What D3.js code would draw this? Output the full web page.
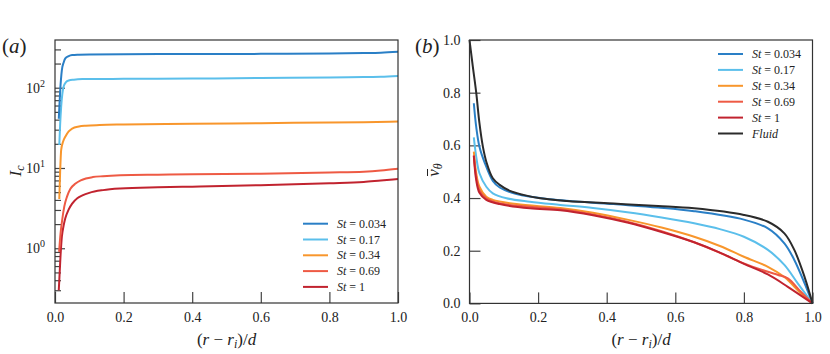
<!DOCTYPE html>
<html>
<head>
<meta charset="utf-8">
<script src="https://cdn.jsdelivr.net/npm/d3@7"></script>
<style>
  body { margin: 0; background: #fff; }
  svg { display: block; }
  text { font-family: "Times New Roman", "Liberation Serif", Times, serif; }
  .tick line { stroke: #444; stroke-width: 1.2; }
</style>
</head>
<body>
<div id="chart"></div>
<script>
// stokes numbers, one series per value
var stLabels = ["0.034", "0.17", "0.34", "0.69", "1"];
var stColours = ["#2a7fc6", "#5bbfeb", "#f8962c", "#ee5a44", "#c1232f"];
var fluidColour = "#2b2b2b";

// panel (a): I_c against (r - r_i)/d, pairs [x, Ic]
var icSt0034 = [[0.011,41],[0.015,90],[0.02,166],[0.025,205],[0.03,232],[0.04,248],[0.05,255],[0.07,258],[0.1,260],[0.2,262],[0.4,263],[0.6,264],[0.8,267],[0.9,270],[0.95,273],[1.0,280]];
var icSt017 = [[0.0125,19.3],[0.015,35],[0.018,58],[0.025,103],[0.032,117],[0.04,123],[0.055,126],[0.08,128],[0.2,129],[0.4,130],[0.6,132],[0.8,134],[0.9,136],[0.95,137],[1.0,140]];
var icSt034 = [[0.0125,4.1],[0.015,9],[0.018,16.8],[0.024,21.5],[0.03,24.5],[0.04,28.5],[0.05,31],[0.07,32.8],[0.09,33.6],[0.13,34.3],[0.2,34.8],[0.4,35.5],[0.6,36.2],[0.8,36.8],[0.9,37.2],[1.0,38]];
var icSt069 = [[0.012,0.9],[0.016,1.5],[0.02,2.1],[0.027,3.3],[0.035,4.4],[0.045,5.5],[0.06,6.4],[0.075,7.0],[0.09,7.4],[0.11,7.7],[0.14,7.9],[0.19,8.1],[0.3,8.25],[0.4,8.35],[0.6,8.5],[0.8,8.8],[0.9,9.0],[0.95,9.3],[1.0,9.8]];
var icSt1 = [[0.011,0.3],[0.016,0.79],[0.02,1.39],[0.025,1.9],[0.03,2.36],[0.04,3.05],[0.05,3.6],[0.065,4.2],[0.08,4.55],[0.1,4.9],[0.14,5.3],[0.19,5.55],[0.3,5.75],[0.4,5.85],[0.6,6.1],[0.8,6.45],[0.9,6.7],[0.95,7.0],[1.0,7.3]];

// panel (b): mean azimuthal velocity, pairs [x, v]
var vSt0034 = [[0.0126,0.76],[0.0196,0.67],[0.029,0.595],[0.045,0.532],[0.068,0.465],[0.088,0.44],[0.137,0.415],[0.235,0.395],[0.42,0.377],[0.55,0.364],[0.655,0.35],[0.8,0.318],[0.87,0.285],[0.918,0.228],[0.947,0.165],[0.977,0.076],[1.0,0]];
var vSt017 = [[0.0126,0.63],[0.0196,0.557],[0.029,0.494],[0.049,0.443],[0.068,0.418],[0.108,0.399],[0.176,0.386],[0.265,0.374],[0.36,0.362],[0.46,0.346],[0.56,0.326],[0.655,0.304],[0.73,0.282],[0.8,0.253],[0.87,0.203],[0.918,0.146],[0.957,0.076],[1.0,0]];
var vSt034 = [[0.0126,0.576],[0.0196,0.494],[0.029,0.443],[0.049,0.405],[0.068,0.393],[0.137,0.377],[0.265,0.362],[0.36,0.344],[0.46,0.318],[0.56,0.288],[0.655,0.253],[0.73,0.218],[0.8,0.177],[0.87,0.139],[0.918,0.10],[0.966,0.038],[1.0,0]];
var vSt069 = [[0.0126,0.563],[0.0196,0.481],[0.029,0.43],[0.049,0.399],[0.088,0.38],[0.176,0.367],[0.265,0.357],[0.36,0.338],[0.46,0.31],[0.56,0.274],[0.655,0.232],[0.73,0.192],[0.8,0.152],[0.87,0.12],[0.9,0.108],[0.928,0.095],[0.966,0.044],[1.0,0]];
var vSt1 = [[0.0126,0.56],[0.0196,0.468],[0.029,0.42],[0.049,0.393],[0.088,0.377],[0.176,0.361],[0.265,0.354],[0.36,0.335],[0.46,0.307],[0.56,0.271],[0.655,0.232],[0.73,0.193],[0.8,0.15],[0.87,0.11],[0.928,0.063],[1.0,0]];
var vFluid = [[0,1.0],[0.0097,0.899],[0.0196,0.80],[0.029,0.684],[0.039,0.595],[0.049,0.538],[0.068,0.475],[0.088,0.45],[0.118,0.427],[0.157,0.412],[0.206,0.399],[0.284,0.389],[0.42,0.379],[0.55,0.37],[0.655,0.361],[0.8,0.336],[0.87,0.31],[0.918,0.266],[0.947,0.203],[0.977,0.10],[1.0,0]];

var xTicks = [0, 0.2, 0.4, 0.6, 0.8, 1.0];
var vTicks = [0, 0.2, 0.4, 0.6, 0.8, 1.0];
var icMajor = [1, 10, 100];

var width = 830, height = 354;
var svg = d3.select("#chart").append("svg")
  .attr("width", width)
  .attr("height", height)
  .attr("font-family", "Times New Roman, Liberation Serif, serif");

var fmt = d3.format(".1f");

//panel geometry
var pa = {left: 55, right: 398, top: 40, bottom: 303};
var pb = {left: 469.5, right: 812.5, top: 40, bottom: 303.4};

function panelG(p){
  return svg.append("g").attr("transform", "translate(" + p.left + "," + p.top + ")");
}

function tidyAxis(g){
  g.select(".domain").remove();
  g.attr("font-family", null).attr("font-size", null);
  g.selectAll(".tick text")
    .style("font-size", "14px")
    .style("fill", "#222");
}

// ---------- panel (a) ----------
var ga = panelG(pa);
var wa = pa.right - pa.left, ha = pa.bottom - pa.top;
var xa = d3.scaleLinear().domain([0, 1]).range([0, wa]);
var ya = d3.scaleLog().domain([0.208, 393]).range([ha, 0]);

var icMinor = [];
[0.1, 1, 10, 100].forEach(function(dec){
  for (var k = 2; k <= 9; k++) {
    var v = dec * k;
    if (v > 0.208 && v < 393) icMinor.push(v);
  }
});

ga.append("g").attr("transform", "translate(0," + ha + ")")
  .call(d3.axisBottom(xa).tickValues(xTicks).tickSize(-11).tickPadding(9).tickFormat(fmt))
  .call(tidyAxis);

ga.append("g").call(d3.axisLeft(ya).tickValues(icMajor).tickSize(-10).tickFormat(""))
  .call(tidyAxis);
ga.append("g").call(d3.axisLeft(ya).tickValues(icMinor).tickSize(-6).tickFormat(""))
  .call(tidyAxis);

//log labels with superscripts
icMajor.forEach(function(v, i){
  var t = ga.append("text")
    .attr("x", -10)
    .attr("y", ya(v) + 5)
    .attr("text-anchor", "end")
    .style("font-size", "14px")
    .style("fill", "#222");
  t.append("tspan").text("10");
  t.append("tspan").attr("dy", -6).style("font-size", "10px").text(String(i));
});

var lineA = d3.line()
  .x(function(d){ return xa(d[0]); })
  .y(function(d){ return ya(d[1]); })
  .curve(d3.curveMonotoneX);

var icSeries = [icSt0034, icSt017, icSt034, icSt069, icSt1];
icSeries.slice().reverse().forEach(function(s, j){
  var i = icSeries.length - 1 - j;
  ga.append("path").datum(s)
    .attr("d", lineA)
    .attr("fill", "none")
    .attr("stroke", stColours[i])
    .attr("stroke-width", 2);
});

ga.append("rect").attr("width", wa).attr("height", ha)
  .attr("fill", "none").attr("stroke", "#333").attr("stroke-width", 1.2);

// legend (a)
stLabels.forEach(function(lab, i){
  var ly = 223.7 + i * 15.8 - pa.top;
  ga.append("line")
    .attr("x1", 303 - pa.left).attr("x2", 328 - pa.left)
    .attr("y1", ly).attr("y2", ly)
    .attr("stroke", stColours[i]).attr("stroke-width", 2);
  var t = ga.append("text").attr("x", 337 - pa.left).attr("y", ly + 4)
    .style("font-size", "12px").style("fill", "#222");
  t.append("tspan").style("font-style", "italic").text("St");
  t.append("tspan").text(" = " + lab);
});

// ---------- panel (b) ----------
var gb = panelG(pb);
var wb = pb.right - pb.left, hb = pb.bottom - pb.top;
var xb = d3.scaleLinear().domain([0, 1]).range([0, wb]);
var yb = d3.scaleLinear().domain([0, 1]).range([hb, 0]);

gb.append("g").attr("transform", "translate(0," + hb + ")")
  .call(d3.axisBottom(xb).tickValues(xTicks).tickSize(-11).tickPadding(9).tickFormat(fmt))
  .call(tidyAxis);
gb.append("g")
  .call(d3.axisLeft(yb).tickValues(vTicks).tickSize(-11).tickPadding(9).tickFormat(fmt))
  .call(tidyAxis);

var lineB = d3.line()
  .x(function(d){ return xb(d[0]); })
  .y(function(d){ return yb(d[1]); })
  .curve(d3.curveCatmullRom.alpha(0.5));

var vSeries = [vSt0034, vSt017, vSt034, vSt069, vSt1];
vSeries.forEach(function(s, i){
  gb.append("path").datum(s)
    .attr("d", lineB)
    .attr("fill", "none")
    .attr("stroke", stColours[i])
    .attr("stroke-width", 2);
});
gb.append("path").datum(vFluid)
  .attr("d", lineB)
  .attr("fill", "none")
  .attr("stroke", fluidColour)
  .attr("stroke-width", 2);

gb.append("rect").attr("width", wb).attr("height", hb)
  .attr("fill", "none").attr("stroke", "#333").attr("stroke-width", 1.2);

// legend (b)
var legB = stLabels.map(function(l, i){ return {lab: l, col: stColours[i]}; });
legB.push({lab: null, col: fluidColour});
legB.forEach(function(d, i){
  var ly = 54 + i * 15.9 - pb.top;
  gb.append("line")
    .attr("x1", 718 - pb.left).attr("x2", 743 - pb.left)
    .attr("y1", ly).attr("y2", ly)
    .attr("stroke", d.col).attr("stroke-width", 2);
  var t = gb.append("text").attr("x", 752 - pb.left).attr("y", ly + 4)
    .style("font-size", "12px").style("fill", "#222");
  if (d.lab === null) {
    t.style("font-style", "italic").text("Fluid");
  } else {
    t.append("tspan").style("font-style", "italic").text("St");
    t.append("tspan").text(" = " + d.lab);
  }
});

// ---------- labels ----------
function panelTag(x, letter){
  var t = svg.append("text").attr("x", x).attr("y", 53)
    .style("font-size", "21px").style("fill", "#222");
  t.append("tspan").text("(");
  t.append("tspan").style("font-style", "italic").text(letter);
  t.append("tspan").text(")");
}
panelTag(2, "a");
panelTag(415, "b");

function xLabel(cx){
  var t = svg.append("text").attr("x", cx).attr("y", 345)
    .attr("text-anchor", "middle")
    .style("font-size", "17px").style("fill", "#222");
  t.append("tspan").text("(");
  t.append("tspan").style("font-style", "italic").text("r");
  t.append("tspan").text(" \u2212 ");
  t.append("tspan").style("font-style", "italic").text("r");
  t.append("tspan").style("font-style", "italic").style("font-size", "12px").attr("dy", 3).text("i");
  t.append("tspan").attr("dy", -3).text(")/");
  t.append("tspan").style("font-style", "italic").text("d");
}
xLabel(226.5);
xLabel(641);

var yl = svg.append("text")
  .attr("transform", "translate(21,171) rotate(-90)")
  .attr("text-anchor", "middle")
  .style("font-size", "17px").style("fill", "#222");
yl.append("tspan").style("font-style", "italic").text("I");
yl.append("tspan").style("font-style", "italic").style("font-size", "12px").attr("dy", 3).text("c");

// v with a bar on top, rotated
var yrG = svg.append("g").attr("transform", "translate(439,170) rotate(-90)");
var yr = yrG.append("text")
  .attr("text-anchor", "middle")
  .style("font-size", "17px").style("fill", "#222");
yr.append("tspan").style("font-style", "italic").text("v");
yr.append("tspan").style("font-style", "italic").style("font-size", "12px").attr("dy", 3).text("\u03b8");
yrG.append("line")
  .attr("x1", -6).attr("x2", 1)
  .attr("y1", -11.5).attr("y2", -11.5)
  .attr("stroke", "#222").attr("stroke-width", 1);
</script>
</body>
</html>
